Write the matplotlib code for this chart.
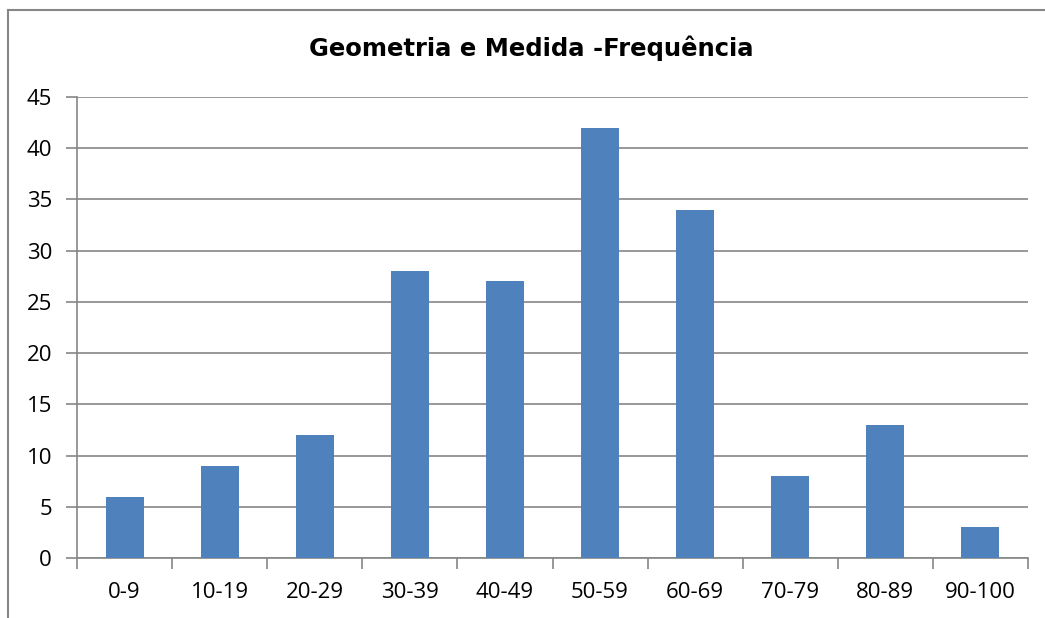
import matplotlib
matplotlib.use('Agg')
import matplotlib.pyplot as plt
from matplotlib.lines import Line2D
import numpy as np

# Frequency per score range
categories = ['0-9', '10-19', '20-29', '30-39', '40-49', '50-59', '60-69', '70-79', '80-89', '90-100']
frequencies = [6, 9, 12, 28, 27, 42, 34, 8, 13, 3]
y_ticks = [0, 5, 10, 15, 20, 25, 30, 35, 40, 45]

W, H = 1045, 618
fig = plt.figure(figsize=(W / 100, H / 100), dpi=100)
ax = fig.add_axes([77 / W, 1 - 558 / H, (1028 - 77) / W, (558 - 97) / H])

grid_color = '#868686'
x = np.arange(len(categories))
ax.bar(x, frequencies, width=0.4, color='#4F81BD', zorder=3)

ax.set_xlim(-0.5, len(categories) - 0.5)
ax.set_ylim(0, 45)
ax.set_yticks(y_ticks)
ax.set_yticklabels([str(v) for v in y_ticks], fontsize=16, family='Open Sans')
ax.set_xticks(x)
ax.set_xticklabels(categories, fontsize=16, family='Open Sans')
ax.yaxis.grid(True, color=grid_color, linewidth=1.2, zorder=0)

# x ticks sit at the category boundaries in the reference
ax.set_xticks(np.arange(-0.5, len(categories)), minor=True)
ax.tick_params(axis='x', which='major', length=0, pad=17)
ax.tick_params(axis='x', which='minor', length=8, width=1.2, color=grid_color)
ax.tick_params(axis='y', length=8, width=1.2, color=grid_color, pad=10)

for side in ['top', 'right']:
    ax.spines[side].set_visible(False)
for side in ['left', 'bottom']:
    ax.spines[side].set_color(grid_color)
    ax.spines[side].set_linewidth(1.2)

fig.text(531 / W, 1 - 48 / H, 'Geometria e Medida -Frequência', ha='center', va='center',
         fontsize=17.5, fontweight='bold', family='DejaVu Sans')

# chart frame (only left and top are visible in the crop)
fig.add_artist(Line2D([8 / W, 8 / W], [0, 1 - 10 / H], transform=fig.transFigure, color=grid_color, linewidth=1.5))
fig.add_artist(Line2D([8 / W, 1], [1 - 10 / H, 1 - 10 / H], transform=fig.transFigure, color=grid_color, linewidth=1.5))

fig.savefig('out.png', dpi=100)
